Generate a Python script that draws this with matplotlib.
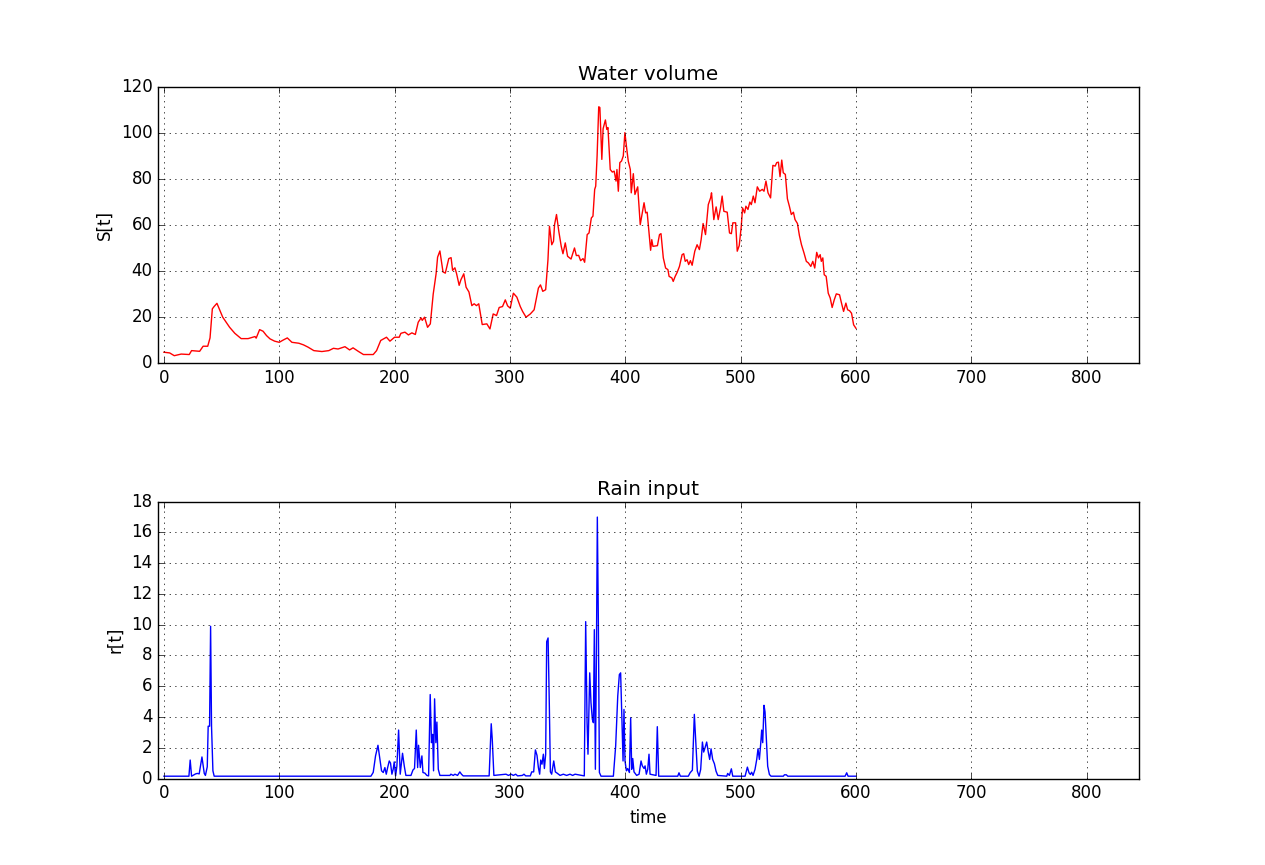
import matplotlib
matplotlib.use("Agg")
import matplotlib.pyplot as plt
from matplotlib.ticker import MultipleLocator

plt.style.use("classic")

# Water volume S[t]
t_s = [0, 5, 9, 15, 22, 24, 31, 34, 38, 40, 42, 43.5, 46, 48, 51, 54, 57, 61.5, 67, 73,
       79, 80, 83, 86, 89, 92, 96, 100, 103.5, 107, 111, 117, 121, 125, 130, 137, 143, 147,
       151, 157, 161, 164, 168.5, 173, 181.5, 184.4, 188, 193, 196, 200, 204, 205.5, 209,
       212, 215, 218, 220.5, 223, 224, 226, 228.6, 231, 233.5, 236, 237.3, 239.3, 242, 244,
       247, 249, 250.3, 252.3, 253.8, 256, 257.5, 260, 262, 264.5, 267, 269, 271, 273, 276,
       280, 282.7, 285.5, 288.4, 290.7, 293.6, 296, 298, 300.3, 303, 306, 309, 311, 314,
       317.7, 321, 322.7, 324.7, 326.5, 328.5, 331, 333, 334.3, 336.3, 337.8, 338.7, 340.4,
       342.4, 344.5, 346, 348, 350, 353, 356, 357.6, 359.6, 361.3, 363.4, 364.8, 367, 368.6,
       370.6, 372, 373.5, 374.4, 375.6, 377, 378, 379.7, 380.8, 382.8, 384, 385, 387, 388.8,
       390.4, 392, 392.8, 394, 395.3, 396.8, 398.3, 399.7, 401, 402.6, 404.4, 405.2, 407,
       408.4, 410.8, 413, 416.3, 417.7, 419, 422, 423, 424, 427.9, 429.7, 431, 433, 435,
       437, 438, 440.4, 441.6, 443.3, 445, 447, 449.3, 450.7, 452, 453.6, 455, 456.5, 458,
       460.3, 462.3, 464.3, 465.8, 467.5, 469.6, 472, 474, 474.8, 476.8, 478.8, 480.6, 482.6,
       484, 485.5, 488.4, 490.4, 492, 493.3, 495.7, 497.1, 498.8, 500.6, 501.7, 503.5, 504.6,
       506.4, 508, 509.3, 511, 512.5, 514.5, 516.5, 518.8, 520.3, 522, 523.8, 526, 528, 530,
       531.3, 532.8, 534.2, 535.7, 537, 538.8, 540.6, 542.3, 544, 545.8, 547.2, 549.3, 551,
       552.8, 555, 557, 558.8, 560.9, 562.6, 564.3, 566, 567.5, 569, 570, 571.3, 572.5,
       574.2, 576, 577.7, 579.4, 581.2, 583, 585.8, 587.5, 589.3, 591.3, 592.8, 594.5,
       596.2, 598, 600]
s_vals = [4.8, 4.5, 3.3, 4, 3.8, 5.5, 5.2, 7.4, 7.4, 11, 23.6, 24.6, 26, 23.6, 20, 17.8,
          15.6, 13, 10.7, 10.7, 11.6, 10.9, 14.6, 13.9, 12, 10.6, 9.6, 9.1, 10.1, 11, 9.1,
          8.7, 8, 7, 5.5, 5.1, 5.5, 6.5, 6.2, 7.2, 5.8, 6.7, 5.2, 3.8, 3.8, 5.5, 9.9, 11.3,
          9.6, 11.3, 11.3, 13, 13.5, 12.3, 13.2, 12.5, 17.8, 19.7, 18.6, 20, 15.6, 17.1, 30,
          38.8, 46, 48.7, 39.6, 39.1, 45.4, 45.8, 40.3, 41.4, 38.8, 33.8, 36.2, 38.8, 33,
          30.9, 25, 25.8, 25, 25.8, 16.8, 17.1, 14.9, 21.4, 20.7, 24.2, 24.6, 27.5, 24.9,
          23.9, 30.4, 28.7, 24.6, 22.5, 20, 21.4, 23.2, 27.5, 32.6, 34, 31.2, 31.9, 44.9,
          59.4, 51.4, 52.9, 60.1, 64.5, 57.2, 50.7, 47.5, 52.2, 46.4, 45.2, 50, 46.7, 46.8,
          44.5, 45.4, 43.8, 55.8, 56.5, 63, 63.8, 75.4, 76.8, 89.9, 111.2, 110.9, 88.4, 101.7,
          105.5, 101.4, 102.2, 84, 82.9, 83.3, 79, 84, 74.6, 87, 87.7, 89.9, 100, 94.2, 87.7,
          84, 73.9, 82.2, 73.2, 76.5, 60.1, 69.6, 65.2, 65.5, 49, 53.6, 50.7, 51, 55.8, 56.2,
          45.7, 41.3, 40.6, 37.7, 37, 35.5, 37.7, 39.4, 42, 47.1, 47.5, 44.2, 44.9, 42.8,
          44.5, 42.5, 48.6, 51.4, 49.3, 53.6, 60.6, 55.8, 68.8, 71.7, 73.9, 62.3, 67.8, 62.3,
          67.4, 72.5, 65.9, 65.5, 56.5, 56.2, 60.9, 60.9, 48.6, 51, 59.4, 67.4, 65.2, 68.1,
          66.7, 69.9, 68.8, 72.5, 69.6, 76.5, 74.6, 75.4, 74.6, 79, 73.9, 71.7, 85.8, 85.5,
          87, 87.2, 80.9, 88.1, 82.6, 81.9, 71.3, 68.1, 64.5, 65.5, 62.3, 60.6, 55.4, 51.4,
          47.8, 44.2, 43.5, 42, 44.2, 41.3, 48.1, 45.7, 47.1, 44.2, 45.7, 38.4, 37.7, 30.4,
          28.3, 24.2, 27.5, 30.1, 29.7, 26.1, 22.5, 26.1, 23.2, 22.8, 21.7, 16.7, 15.2]

# Rain input r[t]
t_r = [0, 21.7, 22.8, 24, 27.5, 29, 30.6, 33, 35, 36, 37.6, 38.4, 39.6, 40.5, 41.3, 42.5,
       43.6, 179.5, 181.5, 183.5, 185.6, 187.3, 188.7, 190.2, 191.6, 192.8, 194, 195.4,
       196.5, 197.7, 198.8, 199.7, 200.9, 202, 203.5, 204.9, 206.9, 208.4, 209.8, 214.2,
       216, 217.3, 218.8, 220, 220.8, 222.3, 223.7, 224.6, 226.3, 228, 229.5, 230.9, 232,
       233, 233.8, 234.7, 235.8, 236.7, 237.9, 239.3, 248, 248.8, 250.9, 252.3, 254.6,
       256.6, 258, 259.5, 282, 283.8, 284.7, 286.1, 296.6, 298.7, 301, 303, 305, 306.7,
       310.8, 312.2, 313.7, 317.7, 318.9, 320.6, 322.1, 323.5, 324.7, 325.8, 326.7, 327.8,
       329, 329.9, 331, 331.9, 333.1, 334.2, 335.1, 336.2, 338, 339.4, 340.9, 343.5, 346.3,
       349.2, 352.1, 354.4, 356.5, 364.5, 365.7, 366.9, 367.7, 369.2, 370.3, 371.5, 372.4,
       373.2, 374.1, 375, 375.8, 376.7, 377.6, 379, 389.7, 391.7, 393.5, 394.9, 396, 397.2,
       398.1, 398.9, 399.8, 401, 402.1, 403.6, 404.7, 405.6, 406.5, 407.6, 409.9, 412,
       413.7, 414.8, 416.3, 417.2, 418.3, 419.5, 420.6, 421.5, 426.7, 427.8, 429, 445.5,
       446.6, 447.8, 454.7, 456.2, 458.2, 459.9, 461.1, 462.5, 464, 465.4, 466.9, 468, 469.2,
       470.6, 472.1, 473.2, 474.4, 475.8, 477.3, 478.7, 480.2, 488, 488.8, 490.3, 492,
       493.2, 503.9, 505.9, 507.3, 508.5, 509.6, 510.8, 512.5, 514, 515.1, 516.3, 517.4,
       518.3, 519.2, 520.3, 521.2, 522.4, 523.5, 525, 526.4, 537.1, 538, 539.7, 540.9,
       590.6, 592, 593.2, 600]
r_vals = [0.15, 0.15, 1.2, 0.15, 0.3, 0.33, 0.3, 1.4, 0.33, 0.2, 0.76, 3.4, 3.4, 9.9, 3.4,
          0.5, 0.15, 0.15, 0.4, 1.47, 2.16, 1.25, 0.5, 0.39, 0.71, 0.28, 0.71, 1.14, 1.0,
          0.28, 0.6, 1.08, 0.17, 0.8, 3.15, 0.28, 1.64, 0.82, 0.2, 0.2, 0.56, 0.65, 3.15,
          0.71, 2.16, 0.71, 1.47, 0.39, 0.35, 0.2, 0.17, 5.46, 2.33, 2.87, 0.5, 5.18, 2.33,
          3.67, 0.6, 0.2, 0.2, 0.28, 0.2, 0.28, 0.2, 0.43, 0.28, 0.17, 0.17, 3.56, 2.55, 0.2,
          0.28, 0.2, 0.28, 0.2, 0.28, 0.17, 0.2, 0.28, 0.17, 0.17, 0.43, 0.43, 1.86, 1.5,
          0.71, 0.28, 1.2, 0.93, 1.58, 0.65, 1.58, 8.9, 9.14, 4.7, 0.43, 0.28, 1.14, 0.43,
          0.35, 0.2, 0.28, 0.2, 0.28, 0.2, 0.28, 0.17, 10.2, 3.63, 1.58, 6.87, 4.92, 3.84,
          3.63, 9.68, 0.6, 7.95, 17.0, 10.1, 0.39, 0.15, 0.15, 2.12, 5.36, 6.76, 6.87, 3.63,
          1.14, 4.49, 1.14, 0.5, 0.65, 0.39, 3.95, 0.6, 1.3, 0.43, 0.2, 0.28, 1.14, 0.82,
          0.65, 0.82, 0.28, 0.6, 1.58, 0.28, 0.2, 3.37, 0.15, 0.15, 0.37, 0.15, 0.15, 0.37,
          0.54, 4.17, 2.43, 0.48, 0.15, 0.59, 2.37, 1.72, 2.0, 2.37, 1.67, 1.24, 1.93, 1.24,
          0.96, 0.48, 0.2, 0.15, 0.33, 0.2, 0.63, 0.15, 0.15, 0.74, 0.37, 0.26, 0.41, 0.2,
          0.59, 1.24, 1.93, 1.24, 2.22, 3.15, 2.33, 4.76, 4.33, 2.54, 0.8, 0.26, 0.15, 0.15,
          0.24, 0.24, 0.15, 0.15, 0.37, 0.15, 0.15]

fig = plt.figure(figsize=(12.65, 8.65), dpi=100, facecolor="white")
plt.subplots_adjust(left=0.125, right=0.9, top=0.9, bottom=0.1, hspace=0.5)

ax1 = plt.subplot(2, 1, 1)
ax1.plot(t_s, s_vals, color="r", linewidth=1)
ax1.set_title("Water volume")
ax1.set_ylabel("S[t]")
ax1.set_xlim(-5, 845)
ax1.set_ylim(0, 120)
ax1.xaxis.set_major_locator(MultipleLocator(100))
ax1.grid(True)

ax2 = plt.subplot(2, 1, 2)
ax2.plot(t_r, r_vals, color="b", linewidth=1)
ax2.set_title("Rain input")
ax2.set_ylabel("r[t]")
ax2.set_xlabel("time")
ax2.set_xlim(-5, 845)
ax2.set_ylim(0, 18)
ax2.xaxis.set_major_locator(MultipleLocator(100))
ax2.grid(True)

plt.savefig("out.png", dpi=100, facecolor="white")
